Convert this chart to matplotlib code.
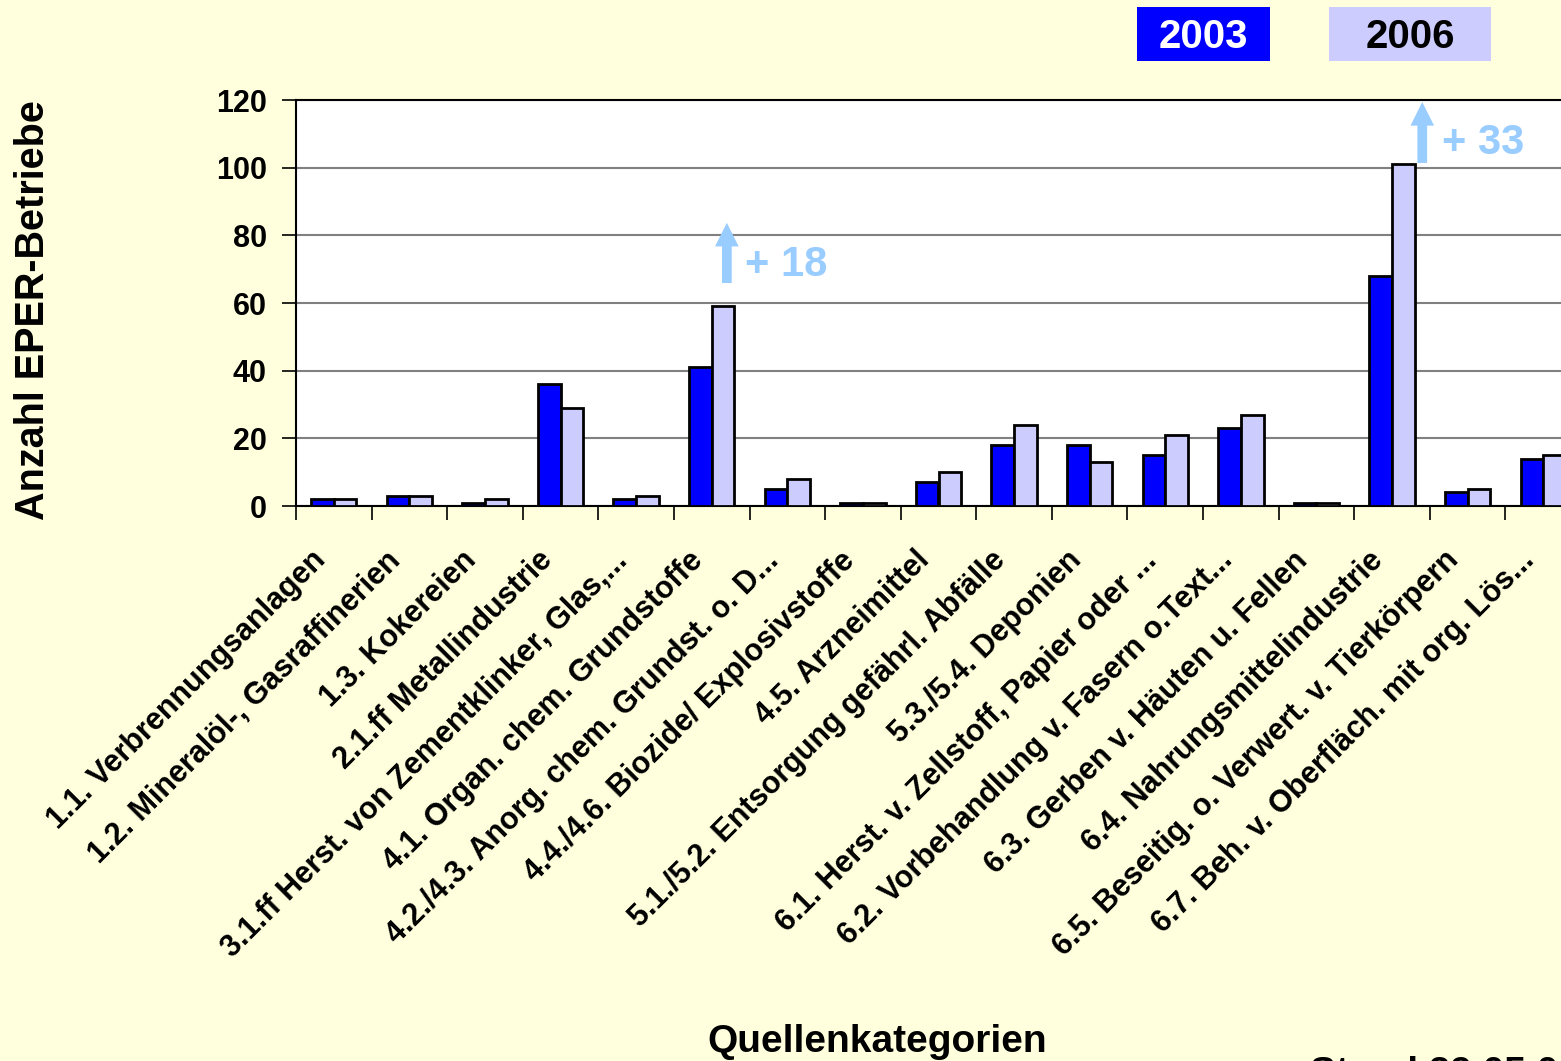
import numpy as np
import matplotlib.pyplot as plt
import matplotlib.transforms as mtransforms
from matplotlib.patches import Rectangle

plt.rcParams['font.family'] = ['Liberation Sans', 'DejaVu Sans']
plt.rcParams['font.weight'] = 'bold'

# EPER facilities per source category, 2003 vs 2006
categories = [
    "1.1. Verbrennungsanlagen",
    "1.2. Mineralöl-, Gasraffinerien",
    "1.3. Kokereien",
    "2.1.ff Metallindustrie",
    "3.1.ff Herst. von Zementklinker, Glas,...",
    "4.1. Organ. chem. Grundstoffe",
    "4.2./4.3. Anorg. chem. Grundst. o. D...",
    "4.4./4.6. Biozide/ Explosivstoffe",
    "4.5. Arzneimittel",
    "5.1./5.2. Entsorgung gefährl. Abfälle",
    "5.3./5.4. Deponien",
    "6.1. Herst. v. Zellstoff, Papier oder ...",
    "6.2. Vorbehandlung v. Fasern o.Text...",
    "6.3. Gerben v. Häuten u. Fellen",
    "6.4. Nahrungsmittelindustrie",
    "6.5. Beseitig. o. Verwert. v. Tierkörpern",
    "6.7. Beh. v. Oberfläch. mit org. Lös...",
]
y2003 = [2, 3, 1, 36, 2, 41, 5, 1, 7, 18, 18, 15, 23, 1, 68, 4, 14]
y2006 = [2, 3, 2, 29, 3, 59, 8, 1, 10, 24, 13, 21, 27, 1, 101, 5, 15]
highlight = [5, 14]  # categories with the big increase arrows

W, H = 1561, 1061
bg = '#FFFFDD'
arrow_col = '#99CCFF'

fig = plt.figure(figsize=(W / 100, H / 100), dpi=100, facecolor=bg)
# plot area runs off the right edge, like in the original slide
ax = fig.add_axes([296 / W, 1 - 506 / H, 1285 / W, 406 / H])
ax.set_facecolor('white')

x = np.arange(len(categories))
w = 0.3
ax.bar(x - w / 2, y2003, w, color='#0000FF', edgecolor='black', linewidth=2, zorder=3)
ax.bar(x + w / 2, y2006, w, color='#CCCCFF', edgecolor='black', linewidth=2, zorder=3)

ax.set_xlim(-0.5, len(categories) - 0.5)
ax.set_ylim(0, 120)
ax.set_yticks(range(0, 121, 20))
ax.yaxis.grid(True, color='#808080', linewidth=1.5)
ax.set_axisbelow(True)
for s in ['top', 'bottom', 'left']:
    ax.spines[s].set_color('black')
    ax.spines[s].set_linewidth(1.5)
ax.spines['right'].set_visible(False)

ax.set_xticks(np.arange(-0.5, len(categories), 1), [''] * (len(categories) + 1))
ax.set_xticks(x, categories, minor=True, rotation=45, ha='right', va='center',
              rotation_mode='anchor', fontsize=22)
ax.tick_params(axis='x', which='major', length=10, width=1.2, direction='out')
ax.tick_params(axis='x', which='minor', length=0, pad=36)
ax.tick_params(axis='y', length=10, width=1.2, direction='out', labelsize=22, pad=11)
shift = mtransforms.ScaledTranslation(-0.13, 0, fig.dpi_scale_trans)
for lab in ax.get_xticklabels(minor=True):
    lab.set_transform(lab.get_transform() + shift)

# increase arrows
arrow_pos = {5: (5.2, 65.9, 83.7, 5.44, 71.2), 14: (14.4, 101.4, 119.4, 14.66, 107.3)}
for i in highlight:
    ax_x, y0, y1, tx, ty = arrow_pos[i]
    ax.annotate('', xy=(ax_x, y1), xytext=(ax_x, y0), annotation_clip=False,
                arrowprops=dict(width=7, headwidth=17, headlength=17, color=arrow_col,
                                shrink=0, linewidth=0))
    ax.text(tx, ty, f'+ {y2006[i] - y2003[i]}', color=arrow_col, fontsize=30,
            ha='left', va='center')

# legend boxes
fig.add_artist(Rectangle((1137 / W, 1 - 61 / H), 133 / W, 54 / H,
                         transform=fig.transFigure, facecolor='#0000FF', edgecolor='none'))
fig.text(1203.5 / W, 1 - 37 / H, '2003', color='white', fontsize=29, ha='center', va='center')
fig.add_artist(Rectangle((1329 / W, 1 - 61 / H), 162 / W, 54 / H,
                         transform=fig.transFigure, facecolor='#CCCCFF', edgecolor='none'))
fig.text(1410 / W, 1 - 37 / H, '2006', color='black', fontsize=29, ha='center', va='center')

fig.text(33 / W, 1 - 310 / H, 'Anzahl EPER-Betriebe', rotation=90, fontsize=28.5,
         ha='center', va='center')
fig.text(877 / W, 1 - 1052 / H, 'Quellenkategorien', fontsize=28, ha='center', va='baseline')
fig.text(1310 / W, 1 - 1084 / H, 'Stand 29.05.08', fontsize=28, ha='left', va='baseline')

plt.savefig('out.png', dpi=100, facecolor=bg)
